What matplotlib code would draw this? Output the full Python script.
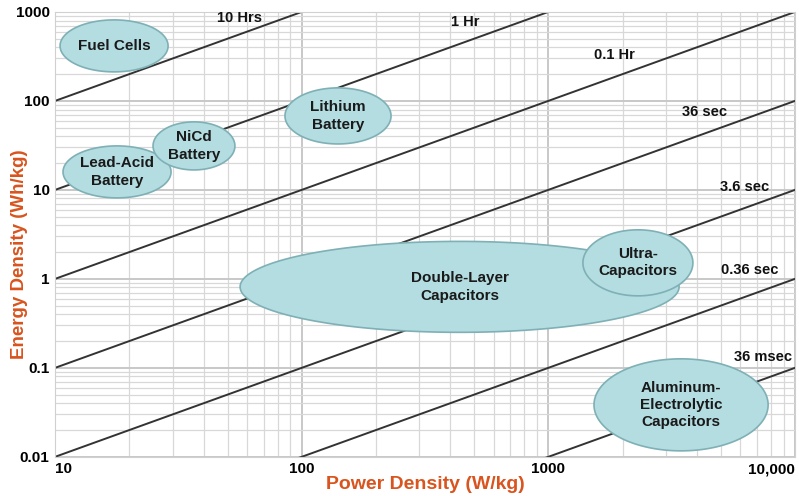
import numpy as np
import matplotlib.pyplot as plt
from matplotlib.ticker import FixedLocator, LogLocator, NullFormatter

plt.rcParams['font.family'] = ['Liberation Sans', 'DejaVu Sans']

# discharge time lines: E = P * t  (t in hours)
line_labels = ['10 Hrs', '1 Hr', '0.1 Hr', '36 sec', '3.6 sec', '0.36 sec', '36 msec']
line_hours = [10, 1, 0.1, 0.01, 0.001, 0.0001, 0.00001]
label_x = [56, 460, 1860, 4300, 6270, 6560, 7400]
label_y = [860, 770, 330, 75, 10.8, 1.26, 0.133]

# technology regions: centre and half-extent in decades (log10 space)
tech_names = ['Fuel Cells', 'Lead-Acid\nBattery', 'NiCd\nBattery', 'Lithium\nBattery',
              'Double-Layer\nCapacitors', 'Ultra-\nCapacitors',
              'Aluminum-\nElectrolytic\nCapacitors']
tech_logP = [1.239, 1.251, 1.563, 2.147, 2.64, 3.363, 3.538]
tech_logE = [2.618, 1.202, 1.494, 1.831, -0.09, 0.18, -1.416]
tech_dP = [0.219, 0.219, 0.166, 0.215, 0.89, 0.223, 0.353]
tech_dE = [0.292, 0.292, 0.27, 0.315, 0.511, 0.371, 0.517]

x_ticks = [10, 100, 1000, 10000]
x_ticklabels = ['10', '100', '1000', '10,000']
y_ticks = [0.01, 0.1, 1, 10, 100, 1000]
y_ticklabels = ['0.01', '0.1', '1', '10', '100', '1000']

orange = '#d9541e'

fig = plt.figure(figsize=(7.99, 4.96), dpi=100)
ax = fig.add_axes([0.069, 0.079, 0.926, 0.897])
ax.set_xscale('log')
ax.set_yscale('log')
ax.set_xlim(10, 10000)
ax.set_ylim(0.01, 1000)

ax.xaxis.set_major_locator(FixedLocator(x_ticks))
ax.yaxis.set_major_locator(FixedLocator(y_ticks))
ax.xaxis.set_minor_locator(LogLocator(base=10, subs=np.arange(2, 10)))
ax.yaxis.set_minor_locator(LogLocator(base=10, subs=np.arange(2, 10)))
ax.xaxis.set_minor_formatter(NullFormatter())
ax.yaxis.set_minor_formatter(NullFormatter())
ax.set_xticklabels(x_ticklabels, fontsize=11, fontweight='bold')
ax.set_yticklabels(y_ticklabels, fontsize=11, fontweight='bold')
ax.get_xticklabels()[-1].set_ha('right')
ax.get_xticklabels()[0].set_ha('left')
ax.tick_params(which='both', length=0, pad=4)
ax.grid(which='major', color='#c8c8c8', lw=1.4)
ax.grid(which='minor', color='#d8d8d8', lw=0.9)
ax.set_axisbelow(True)
for s in ax.spines.values():
    s.set_color('#d0d0d0')

# constant discharge-time lines
P = np.array([10, 10000])
for t in line_hours:
    ax.plot(P, P * t, color='#333333', lw=1.4, zorder=2)
for lab, lx, ly in zip(line_labels, label_x, label_y):
    ax.text(lx, ly, lab, ha='center', va='center', fontsize=10.5,
            fontweight='bold', color='#111111', zorder=3)

# ellipses in log space
th = np.linspace(0, 2 * np.pi, 200)
for i, name in enumerate(tech_names):
    xs = 10 ** (tech_logP[i] + tech_dP[i] * np.cos(th))
    ys = 10 ** (tech_logE[i] + tech_dE[i] * np.sin(th))
    ax.fill(xs, ys, facecolor='#b3dde1', edgecolor='#7fb0b5', lw=1.2, zorder=4 + i)
    ax.text(10 ** tech_logP[i], 10 ** tech_logE[i], name,
            ha='center', va='center', fontsize=11, fontweight='bold',
            color='#1a1a1a', linespacing=1.3, zorder=4 + i)

ax.set_xlabel('Power Density (W/kg)', fontsize=14, fontweight='bold', color=orange,
              labelpad=0)
ax.set_ylabel('Energy Density (Wh/kg)', fontsize=13.5, fontweight='bold', color=orange)
ax.yaxis.set_label_coords(-0.036, 0.455)

fig.savefig('out.png', dpi=100)
